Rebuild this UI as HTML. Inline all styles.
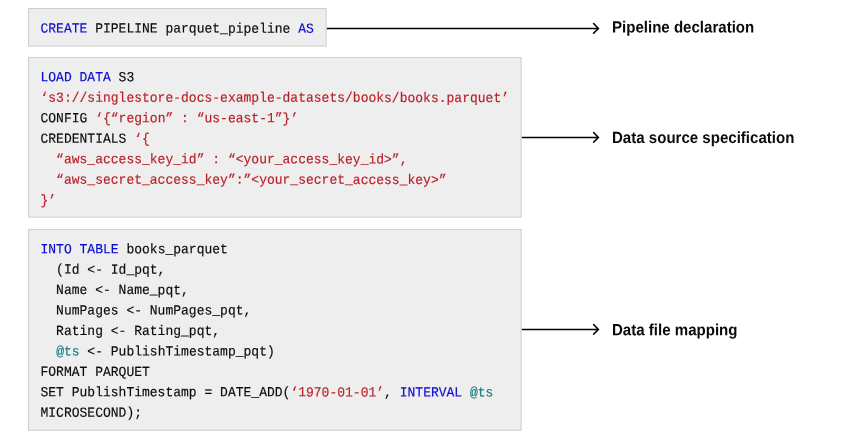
<!DOCTYPE html>
<html lang="en"><head><meta charset="utf-8"><title>Pipeline</title>
<style>
html,body{margin:0;padding:0;background:#fff;}
body{width:850px;height:439px;overflow:hidden;}
svg{display:block;will-change:transform;}
text{text-rendering:geometricPrecision;}
.box{fill:#eeeeee;stroke:#cccccc;stroke-width:1;}
.ar{fill:none;stroke:#000;stroke-width:1.45;stroke-linecap:butt;}
.ah{fill:none;stroke:#000;stroke-width:1.6;stroke-linecap:round;stroke-linejoin:miter;}
.code{font-family:"Liberation Mono",monospace;font-size:13.0px;fill:#111;stroke:#111;stroke-width:0.15px;white-space:pre;letter-spacing:0.007px;}
.k{fill:#0b0bd0;stroke:#0b0bd0;} .s{fill:#b81f25;stroke:#b81f25;} .v{fill:#17807e;stroke:#17807e;} .n{fill:#0a0a0a;stroke:#0a0a0a;}
.lab{font-family:"Liberation Sans",sans-serif;font-weight:bold;font-size:16.2px;fill:#0a0a0a;}
</style></head><body>
<svg width="850" height="439" viewBox="0 0 850 439">
<rect class="box" x="28.50" y="8.60" width="297.60" height="37.50"/>
<rect class="box" x="28.50" y="57.55" width="492.60" height="159.55"/>
<rect class="box" x="28.50" y="229.40" width="492.60" height="200.80"/>
<path class="ar" d="M326.80 28.40 H598.00"/><path class="ah" d="M593.60 23.55 L598.40 28.40 L593.60 33.25"/>
<path class="ar" d="M521.80 137.40 H598.00"/><path class="ah" d="M593.60 132.55 L598.40 137.40 L593.60 142.25"/>
<path class="ar" d="M521.80 329.40 H598.00"/><path class="ah" d="M593.60 324.55 L598.40 329.40 L593.60 334.25"/>
<text class="code" transform="translate(40.50 32.60) rotate(0.04 136.6 0) scale(1 1.070)" xml:space="preserve"><tspan class="k">CREATE</tspan><tspan class="n"> PIPELINE parquet_pipeline </tspan><tspan class="k">AS</tspan></text>
<text class="code" transform="translate(40.50 81.30) rotate(0.04 46.8 0) scale(1 1.070)" xml:space="preserve"><tspan class="k">LOAD DATA</tspan><tspan class="n"> S3</tspan></text>
<text class="code" transform="translate(40.50 101.80) rotate(0.04 234.2 0) scale(1 1.070)" xml:space="preserve"><tspan class="s">‘s3://singlestore-docs-example-datasets/books/books.parquet’</tspan></text>
<text class="code" transform="translate(40.50 122.30) rotate(0.04 128.8 0) scale(1 1.070)" xml:space="preserve"><tspan class="n">CONFIG </tspan><tspan class="s">‘{“region” : “us-east-1”}’</tspan></text>
<text class="code" transform="translate(40.50 142.80) rotate(0.04 54.6 0) scale(1 1.070)" xml:space="preserve"><tspan class="n">CREDENTIALS </tspan><tspan class="s">‘{</tspan></text>
<text class="code" transform="translate(40.50 163.30) rotate(0.04 183.5 0) scale(1 1.070)" xml:space="preserve"><tspan class="s">  “aws_access_key_id” : “&lt;your_access_key_id&gt;”,</tspan></text>
<text class="code" transform="translate(40.50 183.80) rotate(0.04 203.0 0) scale(1 1.070)" xml:space="preserve"><tspan class="s">  “aws_secret_access_key”:”&lt;your_secret_access_key&gt;”</tspan></text>
<text class="code" transform="translate(40.50 204.30) rotate(0.04 7.8 0) scale(1 1.070)" xml:space="preserve"><tspan class="s">}’</tspan></text>
<text class="code" transform="translate(40.50 253.20) rotate(0.04 93.7 0) scale(1 1.070)" xml:space="preserve"><tspan class="k">INTO TABLE</tspan><tspan class="n"> books_parquet</tspan></text>
<text class="code" transform="translate(40.50 273.65) rotate(0.04 62.5 0) scale(1 1.070)" xml:space="preserve"><tspan class="n">  (Id &lt;- Id_pqt,</tspan></text>
<text class="code" transform="translate(40.50 294.10) rotate(0.04 74.2 0) scale(1 1.070)" xml:space="preserve"><tspan class="n">  Name &lt;- Name_pqt,</tspan></text>
<text class="code" transform="translate(40.50 314.55) rotate(0.04 105.4 0) scale(1 1.070)" xml:space="preserve"><tspan class="n">  NumPages &lt;- NumPages_pqt,</tspan></text>
<text class="code" transform="translate(40.50 335.00) rotate(0.04 89.8 0) scale(1 1.070)" xml:space="preserve"><tspan class="n">  Rating &lt;- Rating_pqt,</tspan></text>
<text class="code" transform="translate(40.50 355.45) rotate(0.04 117.1 0) scale(1 1.070)" xml:space="preserve"><tspan class="n">  </tspan><tspan class="v">@ts</tspan><tspan class="n"> &lt;- PublishTimestamp_pqt)</tspan></text>
<text class="code" transform="translate(40.50 375.90) rotate(0.04 54.6 0) scale(1 1.070)" xml:space="preserve"><tspan class="n">FORMAT PARQUET</tspan></text>
<text class="code" transform="translate(40.50 396.35) rotate(0.04 226.4 0) scale(1 1.070)" xml:space="preserve"><tspan class="n">SET PublishTimestamp = DATE_ADD(</tspan><tspan class="s">‘1970-01-01’</tspan><tspan class="n">, </tspan><tspan class="k">INTERVAL</tspan><tspan class="n"> </tspan><tspan class="v">@ts</tspan></text>
<text class="code" transform="translate(40.50 416.80) rotate(0.04 50.7 0) scale(1 1.070)" xml:space="preserve"><tspan class="n">MICROSECOND);</tspan></text>
<text class="lab" transform="translate(612.0 32.50) rotate(0.04 71.0 0) scale(0.9300 1)">Pipeline declaration</text>
<text class="lab" transform="translate(612.0 143.00) rotate(0.04 91.0 0) scale(0.9300 1)">Data source specification</text>
<text class="lab" transform="translate(612.0 335.20) rotate(0.04 62.5 0) scale(0.9300 1)">Data file mapping</text>
</svg>
</body></html>
